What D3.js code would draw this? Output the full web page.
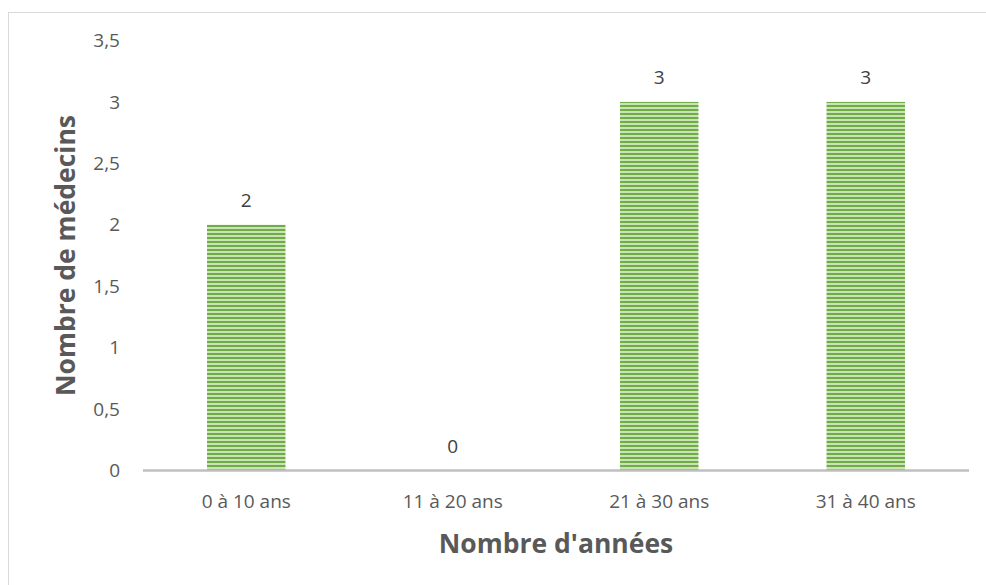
<!DOCTYPE html>
<html>
<head>
<meta charset="utf-8">
<script src="https://cdn.jsdelivr.net/npm/d3@7"></script>
<style>
  body { margin: 0; background: #fff; }
  text { font-family: "Open Sans", sans-serif; }
</style>
</head>
<body>
<script>
// chart data
const categories = ["0 à 10 ans", "11 à 20 ans", "21 à 30 ans", "31 à 40 ans"];
const values = [2, 0, 3, 3];
const yTicks = [0, 0.5, 1, 1.5, 2, 2.5, 3, 3.5];

const w = 986;
const h = 585;
const padLeft = 143, padRight = 969, padTop = 40.5, padBottom = 470.5;

const svg = d3.select("body").append("svg").attr("width", w).attr("height", h);

// striped fill like the office chart
const defs = svg.append("defs");
const pat = defs.append("pattern")
  .attr("id", "stripes")
  .attr("patternUnits", "userSpaceOnUse")
  .attr("width", 8).attr("height", 4);
pat.append("rect").attr("width", 8).attr("height", 4).attr("fill", "#c9e3b6");
pat.append("rect").attr("y", 1).attr("width", 8).attr("height", 2).attr("fill", "#70ad47");

// chart border
svg.append("rect")
  .attr("x", 8.5).attr("y", 12.5)
  .attr("width", 1000).attr("height", 600)
  .attr("fill", "none").attr("stroke", "#d9d9d9");

const xScale = d3.scaleBand().domain(categories).range([padLeft, padRight]).paddingInner(0.62).paddingOuter(0.31);
const yScale = d3.scaleLinear().domain([0, 3.5]).range([padBottom, padTop]);

svg.selectAll("rect.bar")
  .data(values)
  .enter()
  .append("rect")
  .attr("class", "bar")
  .attr("x", (d, i) => xScale(categories[i]))
  .attr("y", (d) => yScale(d))
  .attr("width", xScale.bandwidth())
  .attr("height", (d) => padBottom - yScale(d))
  .attr("fill", "url(#stripes)");

// data labels
svg.selectAll("text.lbl")
  .data(values)
  .enter()
  .append("text")
  .attr("class", "lbl")
  .attr("x", (d, i) => xScale(categories[i]) + xScale.bandwidth() / 2)
  .attr("y", (d) => yScale(d) - 18)
  .attr("text-anchor", "middle")
  .attr("font-size", 19)
  .attr("fill", "#404040")
  .text((d) => d);

// y axis labels (no line)
const yAxis = d3.axisLeft(yScale).tickValues(yTicks).tickSize(0).tickPadding(0)
  .tickFormat((d) => String(d).replace(".", ","));
const gy = svg.append("g").attr("transform", "translate(120,0)").call(yAxis);
gy.select(".domain").remove();
gy.selectAll("text").attr("font-size", 19).attr("fill", "#595959").attr("font-family", "Open Sans");

// x axis
const xAxis = d3.axisBottom(xScale).tickSize(0).tickPadding(24);
const gx = svg.append("g").attr("transform", "translate(0," + padBottom + ")").call(xAxis);
gx.select(".domain").attr("stroke", "#bfbfbf").attr("stroke-width", 2.5)
  .attr("d", "M" + padLeft + ",0H" + padRight);
gx.selectAll("text").attr("font-size", 19).attr("fill", "#595959").attr("font-family", "Open Sans");

// axis titles, centred on the plot area
svg.append("text")
  .attr("x", (padLeft + padRight) / 2).attr("y", 553)
  .attr("text-anchor", "middle")
  .attr("font-size", 26.5).attr("font-weight", "bold").attr("fill", "#595959")
  .text("Nombre d'années");

svg.append("text")
  .attr("transform", "translate(75," + (padTop + padBottom) / 2 + ") rotate(-90)")
  .attr("text-anchor", "middle")
  .attr("font-size", 26.5).attr("font-weight", "bold").attr("fill", "#595959")
  .text("Nombre de médecins");
</script>
</body>
</html>
